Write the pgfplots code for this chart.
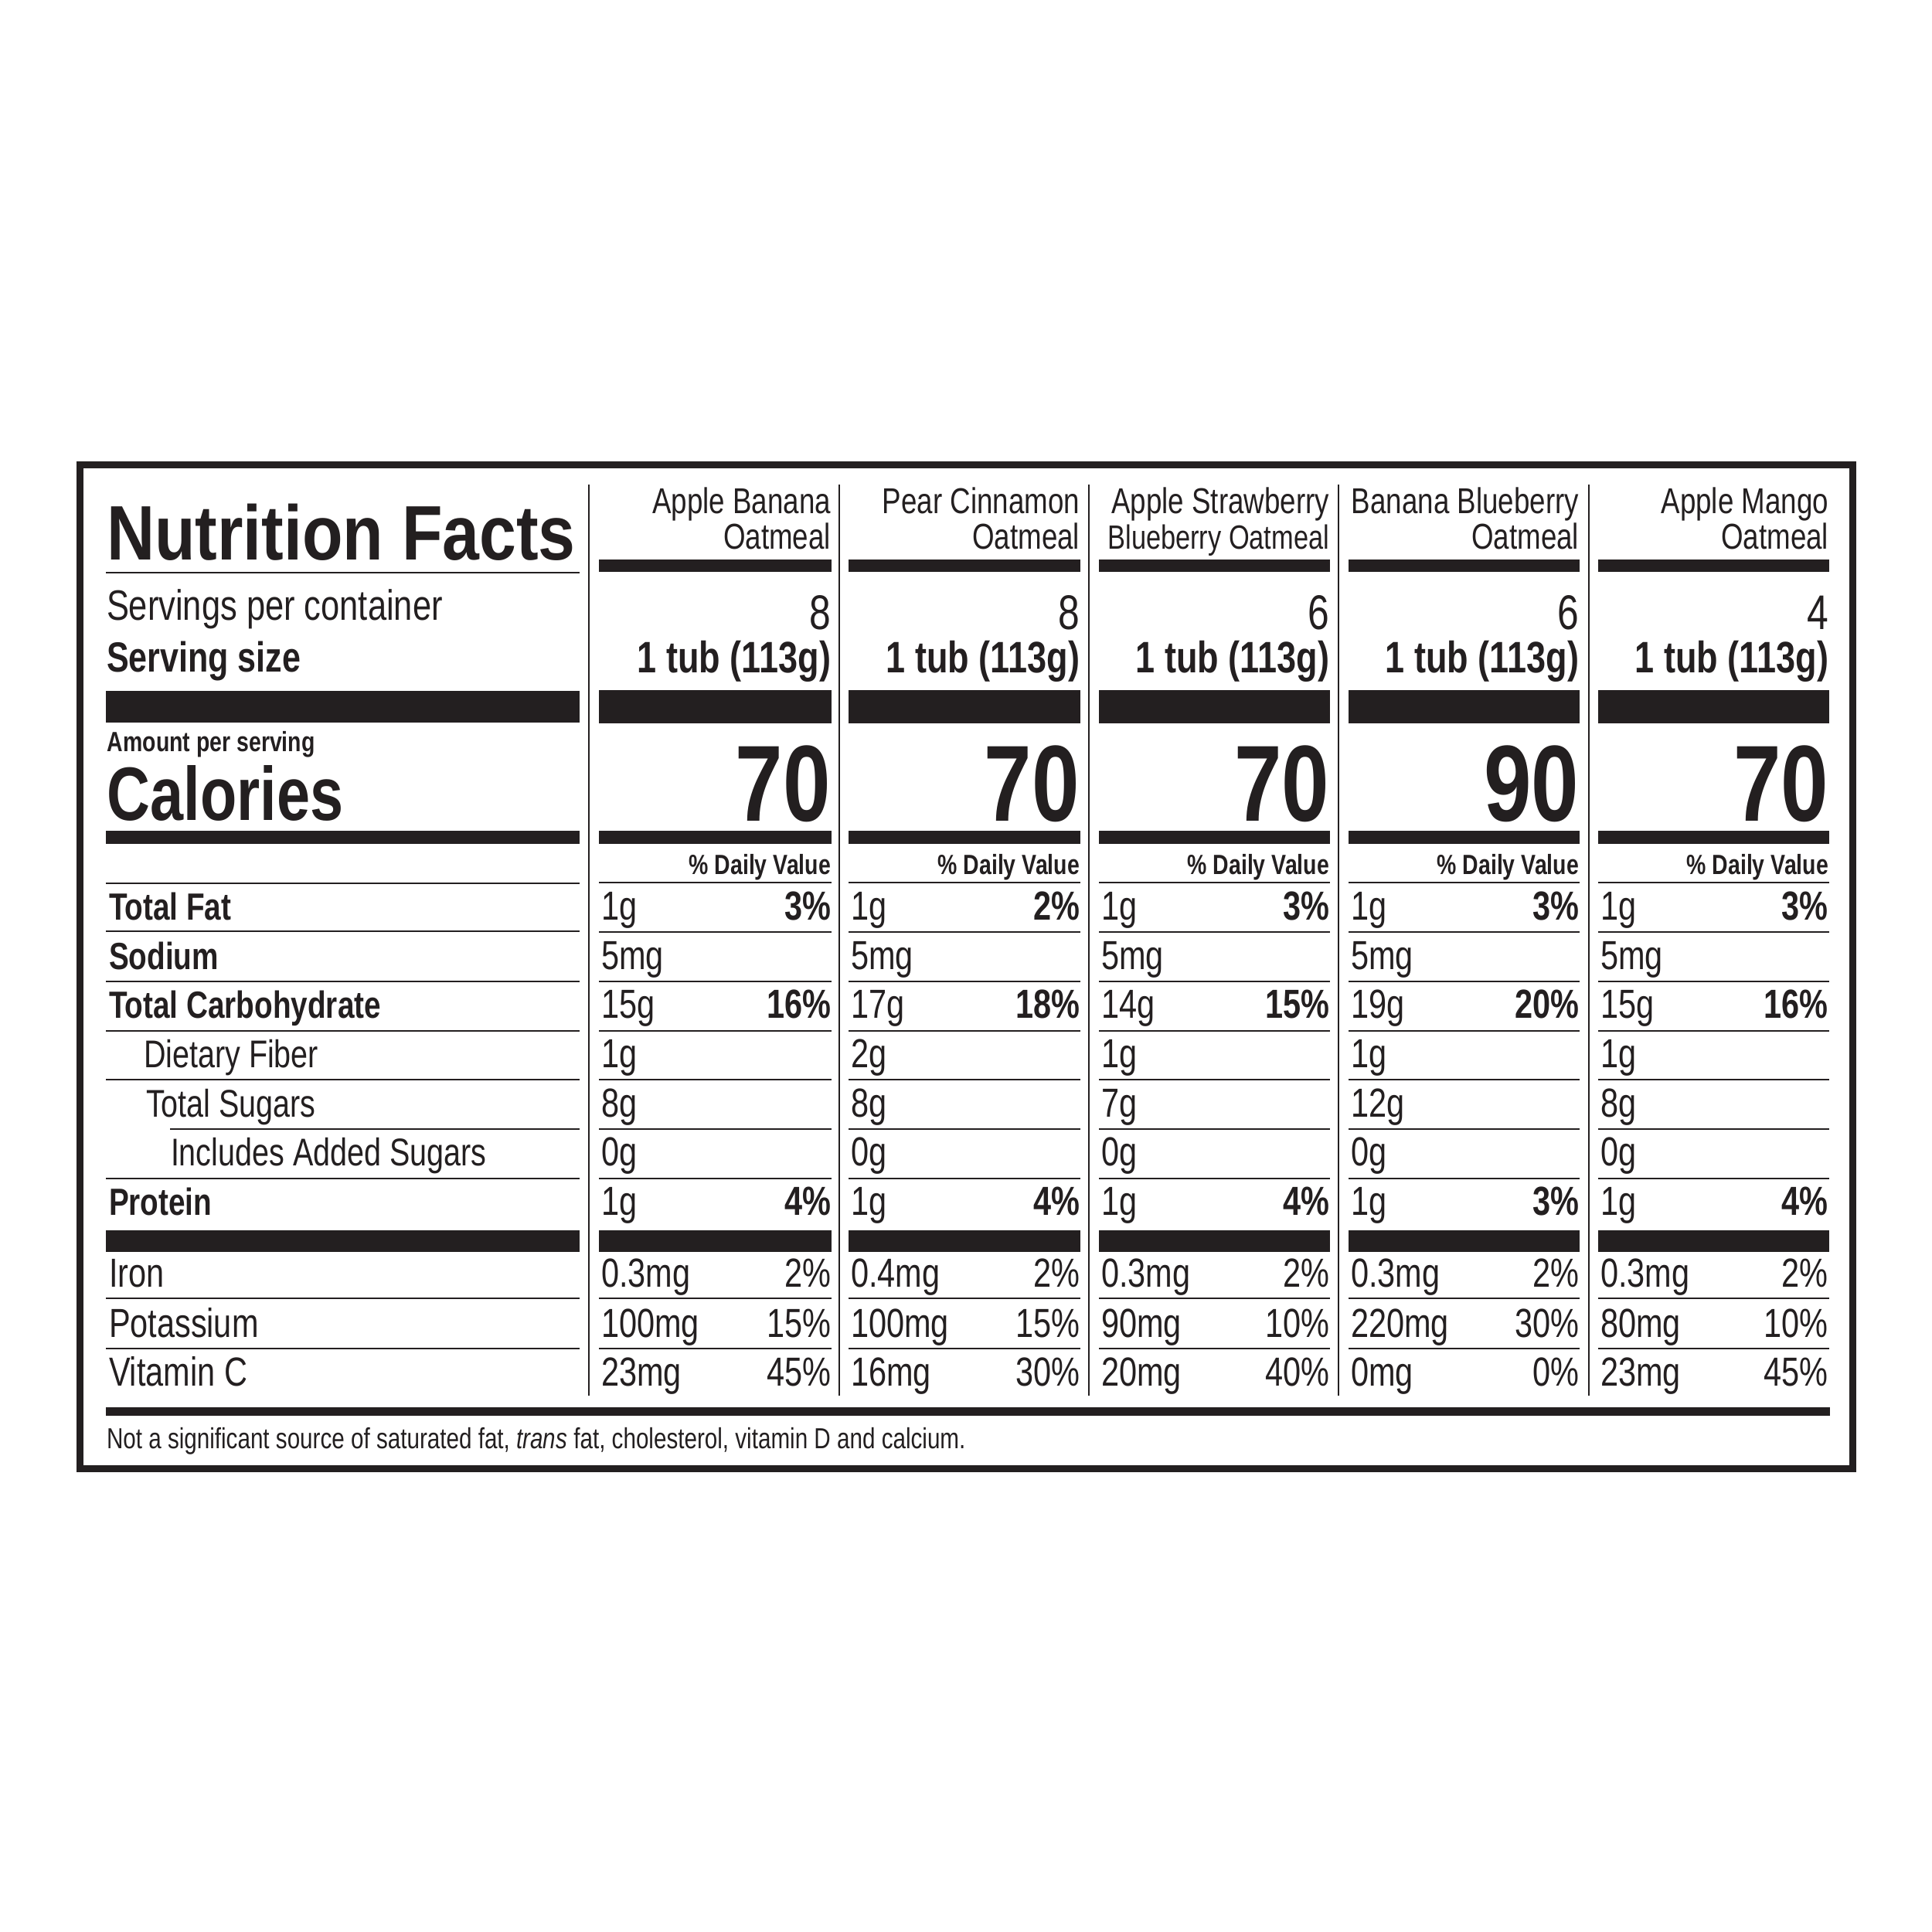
\documentclass[border=0pt]{standalone}
\usepackage{fontspec}
\setmainfont{Liberation Sans}[FakeStretch=0.79]
\newfontfamily\titlefont{Liberation Sans}[FakeStretch=0.86]
\usepackage{pgfplots}
\pgfplotsset{compat=1.18}
\definecolor{ink}{HTML}{231F20}
\newcommand{\fs}[1]{\fontsize{#1}{#1}\selectfont}
\tikzset{
  fTitle/.style={font=\titlefont\fs{20}\bfseries},
  fServ/.style={font=\fs{11}},
  fServB/.style={font=\fs{10.9}\bfseries},
  fAmt/.style={font=\fs{7.2}\bfseries},
  fCal/.style={font=\fs{19.6}\bfseries},
  fHead/.style={font=\fs{9.3}},
  fSnum/.style={font=\fs{12.6}},
  fSsize/.style={font=\fs{11.4}\bfseries},
  fCalN/.style={font=\fs{28}\bfseries},
  fDV/.style={font=\fs{7.2}\bfseries},
  fRow/.style={font=\fs{10}},
  fRowB/.style={font=\fs{9.8}\bfseries},
  fVal/.style={font=\fs{10.5}},
  fValB/.style={font=\fs{10.5}\bfseries},
  fFoot/.style={font=\fs{7.5}},
}
\newcommand{\Rect}[4]{\fill[ink] (axis cs:#1,#2) rectangle (axis cs:#3,#4);}
\newcommand{\Hl}[3]{\draw[ink,line width=0.5pt] (axis cs:#1,#3) -- (axis cs:#2,#3);}
\newcommand{\TL}[4]{\node[anchor=base west,inner sep=0pt,text=ink,#1] at (axis cs:#2,#3) {#4};}
\newcommand{\TR}[4]{\node[anchor=base east,inner sep=0pt,text=ink,#1] at (axis cs:#2,#3) {#4};}
% column frame: xs, xe, name1, name2, servings, calories
\newcommand{\ColTop}[6]{%
  \Rect{#1}{724}{#2}{740}
  \TR{fHead}{#2}{664}{#3}
  \TR{fHead}{#2}{710}{#4}
  \TR{fSnum}{#2}{814}{#5}
  \TR{fSsize}{#2}{870}{1 tub (113g)}
  \Rect{#1}{893}{#2}{936}
  \TR{fCalN}{#2}{1062}{#6}
  \Rect{#1}{1075}{#2}{1092}
  \TR{fDV}{#2}{1131}{\% Daily Value}
  \Hl{#1}{#2}{1142}\Hl{#1}{#2}{1206}\Hl{#1}{#2}{1270}\Hl{#1}{#2}{1334}
  \Hl{#1}{#2}{1397}\Hl{#1}{#2}{1461}\Hl{#1}{#2}{1525}
  \Rect{#1}{1592}{#2}{1620}
  \Hl{#1}{#2}{1680}\Hl{#1}{#2}{1745}
}
% xs, xe, fat, fat%, sodium, carb, carb%, fiber, sugars
\newcommand{\ColA}[9]{%
  \TL{fVal}{#1}{1190}{#3}\TR{fValB}{#2}{1190}{#4}
  \TL{fVal}{#1}{1254}{#5}
  \TL{fVal}{#1}{1317}{#6}\TR{fValB}{#2}{1317}{#7}
  \TL{fVal}{#1}{1381}{#8}
  \TL{fVal}{#1}{1445}{#9}
}
% xs, xe, added, protein, protein%, iron, iron%, potassium, potassium%
\newcommand{\ColB}[9]{%
  \TL{fVal}{#1}{1508}{#3}
  \TL{fVal}{#1}{1572}{#4}\TR{fValB}{#2}{1572}{#5}
  \TL{fVal}{#1}{1665}{#6}\TR{fVal}{#2}{1665}{#7}
  \TL{fVal}{#1}{1730}{#8}\TR{fVal}{#2}{1730}{#9}
}
% xs, xe, vitC, vitC%
\newcommand{\ColC}[4]{%
  \TL{fVal}{#1}{1793}{#3}\TR{fVal}{#2}{1793}{#4}
}
\begin{document}
\begin{tikzpicture}
\begin{axis}[scale only axis, width=500pt, height=500pt,
  xmin=0, xmax=2500, ymin=0, ymax=2500, y dir=reverse,
  hide axis, clip=false]
\fill[white] (axis cs:0,0) rectangle (axis cs:2500,2500);
% outer border
\draw[ink,line width=1.8pt] (axis cs:103.5,601.5) rectangle (axis cs:2397.5,1900.5);
% column separators
\addplot[ink,line width=0.5pt] coordinates {(762,627) (762,1806)};
\addplot[ink,line width=0.5pt] coordinates {(1086,627) (1086,1806)};
\addplot[ink,line width=0.5pt] coordinates {(1409,627) (1409,1806)};
\addplot[ink,line width=0.5pt] coordinates {(1732,627) (1732,1806)};
\addplot[ink,line width=0.5pt] coordinates {(2056,627) (2056,1806)};
% left section
\TL{fTitle}{137}{724}{Nutrition Facts}
\Hl{137}{750}{741}
\TL{fServ}{137}{802}{Servings per container}
\TL{fServB}{137}{869}{Serving size}
\Rect{137}{894}{750}{935}
\TL{fAmt}{138}{972}{Amount per serving}
\TL{fCal}{138}{1061}{Calories}
\Rect{137}{1075}{750}{1092}
\Hl{137}{750}{1143}
\TL{fRowB}{140}{1190}{Total Fat}
\Hl{137}{750}{1205}
\TL{fRowB}{140}{1254}{Sodium}
\Hl{137}{750}{1270}
\TL{fRowB}{140}{1317}{Total Carbohydrate}
\Hl{137}{750}{1334}
\TL{fRow}{185}{1381}{Dietary Fiber}
\Hl{137}{750}{1397}
\TL{fRow}{188}{1445}{Total Sugars}
\Hl{220}{750}{1461}
\TL{fRow}{220}{1508}{Includes Added Sugars}
\Hl{137}{750}{1525}
\TL{fRowB}{140}{1572}{Protein}
\Rect{137}{1592}{750}{1620}
\TL{fVal}{140}{1665}{Iron}
\Hl{137}{750}{1680}
\TL{fVal}{140}{1730}{Potassium}
\Hl{137}{750}{1745}
\TL{fVal}{140}{1793}{Vitamin C}
% columns
\ColTop{775}{1076}{Apple Banana}{Oatmeal}{8}{70}
\ColA{777}{1076}{1g}{3\%}{5mg}{15g}{16\%}{1g}{8g}
\ColB{777}{1076}{0g}{1g}{4\%}{0.3mg}{2\%}{100mg}{15\%}
\ColC{777}{1076}{23mg}{45\%}
\ColTop{1098}{1398}{Pear Cinnamon}{Oatmeal}{8}{70}
\ColA{1100}{1398}{1g}{2\%}{5mg}{17g}{18\%}{2g}{8g}
\ColB{1100}{1398}{0g}{1g}{4\%}{0.4mg}{2\%}{100mg}{15\%}
\ColC{1100}{1398}{16mg}{30\%}
\ColTop{1422}{1721}{Apple Strawberry}{\fs{8.7}Blueberry Oatmeal}{6}{70}
\ColA{1424}{1721}{1g}{3\%}{5mg}{14g}{15\%}{1g}{7g}
\ColB{1424}{1721}{0g}{1g}{4\%}{0.3mg}{2\%}{90mg}{10\%}
\ColC{1424}{1721}{20mg}{40\%}
\ColTop{1745}{2044}{Banana Blueberry}{Oatmeal}{6}{90}
\ColA{1747}{2044}{1g}{3\%}{5mg}{19g}{20\%}{1g}{12g}
\ColB{1747}{2044}{0g}{1g}{3\%}{0.3mg}{2\%}{220mg}{30\%}
\ColC{1747}{2044}{0mg}{0\%}
\ColTop{2068}{2367}{Apple Mango}{Oatmeal}{4}{70}
\ColA{2070}{2366}{1g}{3\%}{5mg}{15g}{16\%}{1g}{8g}
\ColB{2070}{2366}{0g}{1g}{4\%}{0.3mg}{2\%}{80mg}{10\%}
\ColC{2070}{2366}{23mg}{45\%}
% bottom bar and footnote
\Rect{137}{1821}{2368}{1832}
\TL{fFoot}{137}{1874}{Not a significant source of saturated fat, \textit{trans} fat, cholesterol, vitamin D and calcium.}
\end{axis}
\end{tikzpicture}
\end{document}
